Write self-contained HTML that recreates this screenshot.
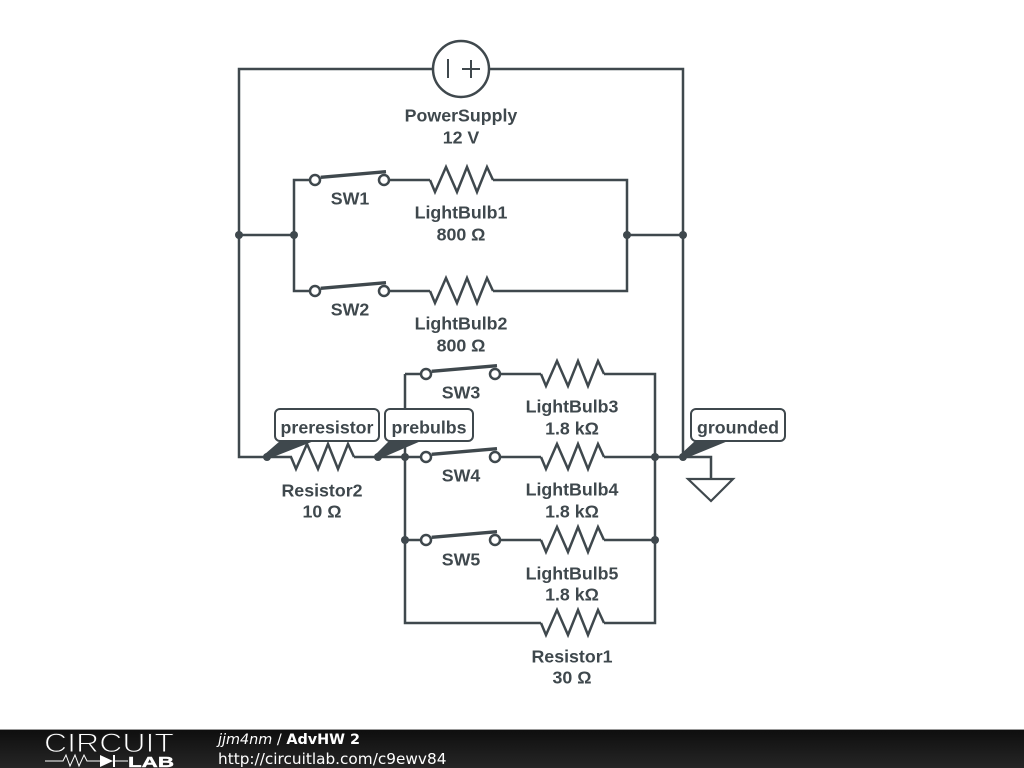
<!DOCTYPE html>
<html><head><meta charset="utf-8"><style>
html,body{margin:0;padding:0;background:#fff;width:1024px;height:768px;overflow:hidden}
svg{display:block;filter:blur(.3px)}
.l{font-family:"Liberation Sans",sans-serif;font-weight:bold;font-size:17.8px;fill:#3f484d;text-anchor:middle}
.n{font-family:"Liberation Sans",sans-serif;font-weight:bold;font-size:17.8px;fill:#3f484d;text-anchor:middle}
.f{font-family:"DejaVu Sans",sans-serif;fill:#fff}
</style></head><body>
<svg width="1024" height="768" viewBox="0 0 1024 768" xmlns="http://www.w3.org/2000/svg">
<defs>
<polyline id="r" points="0,0 5,12 16,-13 27,12 37,-13 47,12 57,-13 63,0"/>
<g id="sw"><circle cx="0" cy="0" r="5"/><circle cx="69" cy="0" r="5"/><path d="M5.700,-2.700 L71,-8.300" stroke-width="3.400"/></g>
<linearGradient id="bar" x1="0" y1="0" x2="0" y2="1"><stop offset="0" stop-color="#0e0e0e"/><stop offset="1" stop-color="#262626"/></linearGradient>
</defs>
<rect width="1024" height="768" fill="#fff"/>
<g fill="none" stroke="#3f484d" stroke-width="2.500">
<path d="M433,69H239V457H267M489,69H683V457"/>
<circle cx="461" cy="69" r="28"/>
<path d="M448,59V78M462,69H480M471,60V78" stroke-width="2"/>
<path d="M239,235H294M627,235H683"/>
<path d="M310,180H294V291H310M389,180H430M493,180H627V291H493M389,291H430"/>
<use href="#r" x="430" y="180"/>
<use href="#r" x="430" y="291"/>
<use href="#sw" x="315" y="180"/>
<use href="#sw" x="315" y="291"/>
<path d="M267,457H292M354,457H421M405,374V623H541M421,374H405"/>
<use href="#r" x="291" y="457"/>
<path d="M500,374H541M604,374H655V623H604M500,457H541M604,457H711V479M500,540H541M604,540H655M405,540H421"/>
<use href="#r" x="541" y="374"/>
<use href="#r" x="541" y="457"/>
<use href="#r" x="541" y="540"/>
<use href="#r" x="541" y="623"/>
<use href="#sw" x="426" y="374"/>
<use href="#sw" x="426" y="457"/>
<use href="#sw" x="426" y="540"/>
<path d="M688,479H733L711,501Z" stroke-width="2.200"/>
</g>
<g fill="#3f484d">
<circle cx="239" cy="235" r="4"/><circle cx="294" cy="235" r="4"/><circle cx="627" cy="235" r="4"/><circle cx="683" cy="235" r="4"/>
<circle cx="267" cy="457" r="4"/><circle cx="378" cy="457" r="4"/><circle cx="405" cy="457" r="4"/><circle cx="655" cy="457" r="4"/><circle cx="683" cy="457" r="4"/><circle cx="405" cy="540" r="4"/><circle cx="655" cy="540" r="4"/>
<path d="M265,454L280,441H314L268,459Z"/>
<path d="M376,454L389,441H421L379,459Z"/>
<path d="M681,454L695,441H728L684,459Z"/>
</g>
<g fill="#fff" stroke="#3f484d" stroke-width="2">
<rect x="275" y="409" width="104" height="32" rx="5"/>
<rect x="385" y="409" width="88" height="32" rx="5"/>
<rect x="691" y="409" width="94" height="32" rx="5"/>
</g>
<text class="n" x="327" y="433.500">preresistor</text>
<text class="n" x="429" y="433.500">prebulbs</text>
<text class="n" x="738" y="433.500">grounded</text>
<text class="l" x="461" y="121.500">PowerSupply</text><text class="l" x="461" y="143.500">12 V</text>
<text class="l" x="350" y="204.500">SW1</text>
<text class="l" x="461" y="218.500">LightBulb1</text><text class="l" x="461" y="240.500">800 Ω</text>
<text class="l" x="350" y="315.500">SW2</text>
<text class="l" x="461" y="329.500">LightBulb2</text><text class="l" x="461" y="351.500">800 Ω</text>
<text class="l" x="461" y="398.500">SW3</text>
<text class="l" x="572" y="412.500">LightBulb3</text><text class="l" x="572" y="434.500">1.8 kΩ</text>
<text class="l" x="461" y="481.500">SW4</text>
<text class="l" x="572" y="495.500">LightBulb4</text><text class="l" x="572" y="517.500">1.8 kΩ</text>
<text class="l" x="461" y="565.500">SW5</text>
<text class="l" x="572" y="579.500">LightBulb5</text><text class="l" x="572" y="600.500">1.8 kΩ</text>
<text class="l" x="322" y="496.500">Resistor2</text><text class="l" x="322" y="517.500">10 Ω</text>
<text class="l" x="572" y="662.500">Resistor1</text><text class="l" x="572" y="683.500">30 Ω</text>
<rect x="0" y="729" width="1024" height="39" fill="url(#bar)"/>
<rect x="0" y="729" width="1024" height="1" fill="#999"/>
<text x="44" y="752" font-family="Liberation Sans,sans-serif" font-size="27" fill="#fff" stroke="#1a1a1a" stroke-width="1" textLength="130" lengthAdjust="spacingAndGlyphs">CIRCUIT</text>
<path d="M45,761H63L66,755 70,766 75,755 79,766 84,755 87,761H100M115,761H128" fill="none" stroke="#fff" stroke-width="1"/>
<path d="M100,755V767L113,761Z M113,755H115V767H113Z" fill="#fff"/>
<text x="128" y="767" font-family="Liberation Sans,sans-serif" font-weight="bold" font-size="15" fill="#fff" stroke="#fff" stroke-width=".4" textLength="46" lengthAdjust="spacingAndGlyphs">LAB</text>
<text class="f" x="218" y="744" font-size="14.400"><tspan font-style="italic">jjm4nm</tspan> / <tspan font-weight="bold">AdvHW 2</tspan></text>
<text class="f" x="218" y="764" font-size="15.300">http://circuitlab.com/c9ewv84</text>
</svg>
</body></html>
